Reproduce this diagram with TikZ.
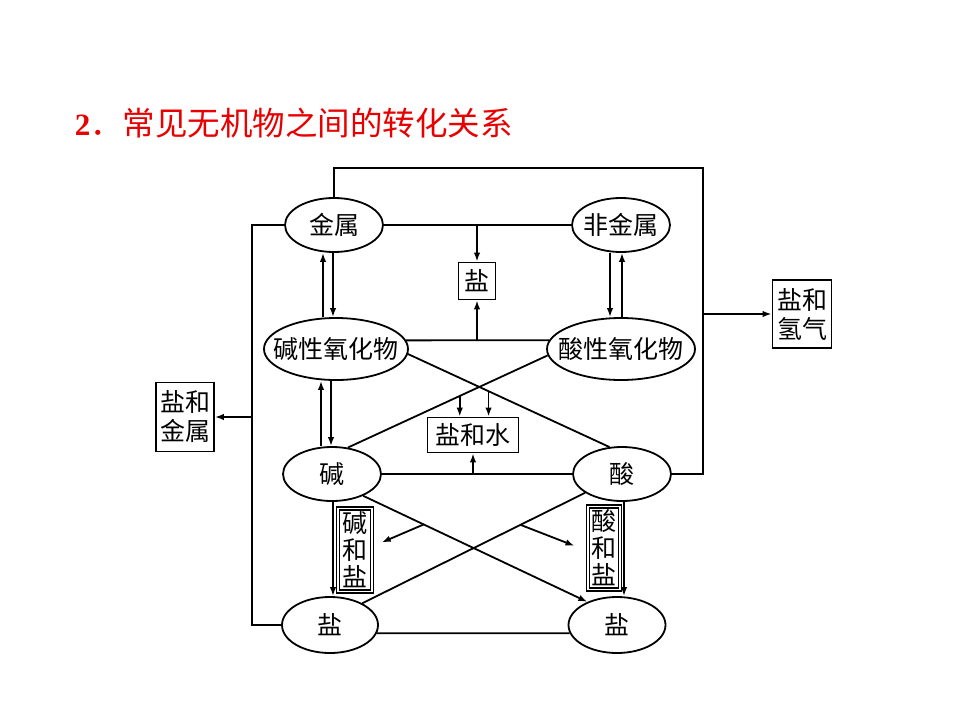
\documentclass[tikz,border=0pt]{standalone}
\usepackage{fontspec}
\setmainfont{Liberation Serif}
\newfontfamily\cjk{Noto Sans CJK SC}
\usetikzlibrary{shapes.geometric,arrows.meta,calc}
\definecolor{titlered}{RGB}{232,0,0}
% keeps a label from widening its ellipse
\newcommand\ovallabel[1]{\makebox[0pt]{#1}}
\begin{document}
\begin{tikzpicture}[x=1pt,y=-1pt,line width=1.8pt,
  oval/.style={ellipse,draw,inner sep=0pt,font={\cjk\fontsize{25}{28}\selectfont}},
  tag/.style={rectangle,draw,inner sep=0pt,align=center,font={\cjk\fontsize{25}{29}\selectfont}},
  vtag/.style={rectangle,draw,line width=1.2pt,double,double distance=1.8pt,inner sep=0pt,
    align=center,font={\cjk\fontsize{25}{27}\selectfont}},
  arr/.style={-{Latex[length=9pt,width=6.5pt]}}]
\useasboundingbox (0,0) rectangle (960,720);

% heading
\node[anchor=west,text=titlered,inner sep=0pt] (title) at (74,123)
  {\fontsize{31}{34}\selectfont\textbf{2}{\cjk\fontsize{32.5}{34}\selectfont ．常见无机物之间的转化关系}};

% substances
\node[oval,minimum width=98pt,minimum height=54pt] (jin) at (334,225) {\ovallabel{金属}};
\node[oval,minimum width=98pt,minimum height=54pt] (fei) at (621,225) {\ovallabel{非金属}};
\node[oval,minimum width=144pt,minimum height=62pt] (jy) at (336,349) {\ovallabel{碱性氧化物}};
\node[oval,minimum width=148pt,minimum height=62pt] (sy) at (621,349) {\ovallabel{酸性氧化物}};
\node[oval,minimum width=98pt,minimum height=54pt] (jian) at (332,474) {\ovallabel{碱}};
\node[oval,minimum width=98pt,minimum height=54pt] (suan) at (622,474) {\ovallabel{酸}};
\node[oval,minimum width=96pt,minimum height=56pt] (yanL) at (330,625) {\ovallabel{盐}};
\node[oval,minimum width=97pt,minimum height=56pt] (yanR) at (617,625) {\ovallabel{盐}};

% products
\node[tag,minimum width=37pt,minimum height=37pt] (salt) at (477,281) {盐};
\node[tag,minimum width=91pt,minimum height=35pt] (shs) at (473,435) {盐和水};
\node[tag,minimum width=59pt,minimum height=68pt] (hq) at (802,314) {盐和\\氢气};
\node[tag,minimum width=58pt,minimum height=69pt] (jsb) at (185,417) {盐和\\金属};
\node[vtag,minimum width=34pt,minimum height=83pt] (jhy) at (355,550) {碱\\和\\盐};
\node[vtag,minimum width=32pt,minimum height=83pt] (shy) at (604,548) {酸\\和\\盐};

% outer right loop: metal -> acid, branch to salt and hydrogen
\coordinate (rt) at (703,168);
\draw (jin.north) |- (rt) |- (suan.east);
\coordinate (rj) at (rt |- hq.west);
\draw[arr] (rj) -- (hq.west);

% outer left loop: metal -> salt, branch to salt and metal
\coordinate (lt) at (252,225);
\draw (jin.west) -- (lt) |- (yanL.west);
\coordinate (lj) at (lt |- jsb.east);
\draw[arr] (lj) -- (jsb.east);

% metal + nonmetal -> salt
\draw (jin.east) -- (fei.west);
\coordinate (m1) at (salt.north |- jin.east);
\draw[arr] (m1) -- (salt.north);

% basic oxide + acidic oxide -> salt
\draw (jy.7) -- (sy.173);
\coordinate (m2) at (salt.south |- jy.7);
\draw[arr] (m2) -- (salt.south);

% metal <-> basic oxide
\draw[arr] ([xshift=-13pt]jy.north) -- ([xshift=-11pt]jin.south);
\draw[arr] ([xshift=-1pt]jin.south) -- ([xshift=-3pt]jy.north);

% nonmetal <-> acidic oxide
\draw[arr] ([xshift=-11pt]fei.south) -- ([xshift=-11pt]sy.north);
\draw[arr] ([xshift=1pt]sy.north) -- ([xshift=1pt]fei.south);

% basic oxide <-> base
\draw[arr] ([xshift=-11pt]jian.north) -- ([xshift=-15pt]jy.south);
\draw[arr] ([xshift=-5pt]jy.south) -- ([xshift=-1pt]jian.north);

% oxide/acid/base crossing -> salt and water
\draw (jy.-4) -- (suan.115);
\draw (sy.185) -- (jian.59);
\coordinate (d1) at ($(sy.185)!0.44!(jian.59)$);
\coordinate (d2) at ($(jy.-4)!0.40!(suan.115)$);
\draw[arr] (d1) -- (d1 |- shs.north);
\draw[arr] (d2) -- (d2 |- shs.north);

% base + acid -> salt and water
\draw (jian.east) -- (suan.west);
\coordinate (m3) at (shs.south |- jian.east);
\draw[arr] (m3) -- (shs.south);

% base -> salt, acid -> salt
\draw[arr] ([xshift=1pt]jian.south) -- ([xshift=1pt]jian.south |- yanL.north);
\draw[arr] ([xshift=2pt]suan.south) -- ([xshift=2pt]suan.south |- yanR.north);

% lower crossing
\draw[arr] (jian.-35) -- (yanR.142.5);
\draw (suan.207) -- (yanL.34);
\coordinate (e1) at ($(jian.-35)!0.27!(yanR.142.5)$);
\coordinate (e2) at ($(suan.207)!0.29!(yanL.34)$);
\coordinate (f1) at ($(e1)+(-42,18)$);
\coordinate (f2) at ($(e2)+(54,21)$);
\draw[arr] (e1) -- (f1);
\draw[arr] (e2) -- (f2);

% salt + salt
\draw (yanL.-10) -- (yanR.190);
\end{tikzpicture}
\end{document}
